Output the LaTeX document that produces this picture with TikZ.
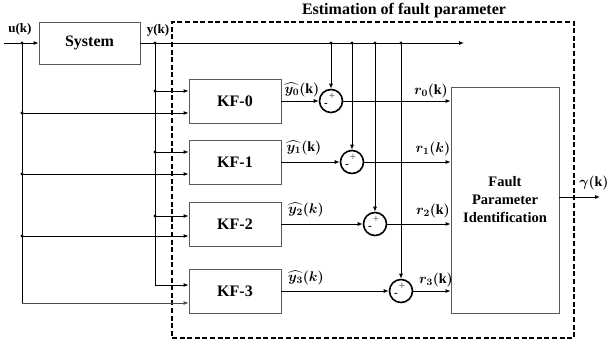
\RequirePackage{fix-cm}
\documentclass[tikz,border=0pt]{standalone}
\usepackage{fontspec}
\setmainfont{Liberation Serif}
\usepackage{amsmath,bm}
\usetikzlibrary{arrows.meta}
\begin{document}
\begin{tikzpicture}[x=1pt,y=-1pt,
  blk/.style={draw=black!65, line width=0.8pt, inner sep=0pt, font=\fontsize{16}{18}\selectfont\bfseries},
  ln/.style={line width=0.9pt},
  arr/.style={ln, -{Latex[length=5pt,width=4pt]}},
  jdot/.style={circle, fill, inner sep=0pt, minimum size=3.2pt},
  sumj/.style={circle, draw, line width=1.6pt, minimum size=23pt, inner sep=0pt},
  sgn/.style={inner sep=0pt, font=\fontsize{11}{11}\selectfont\bfseries},
  lbl/.style={inner sep=0pt, font=\fontsize{13}{14}\selectfont\bfseries},
  mlbl/.style={inner sep=0pt, font=\fontsize{14}{15}\selectfont},
  dashbox/.style={draw, line width=2.3pt, dash pattern=on 5pt off 2.6pt, inner sep=0pt}
]
\useasboundingbox (0,0) rectangle (608,342);

% frame and title
\node[dashbox, minimum width=402, minimum height=316] (frame) at (373,180) {};
\node[inner sep=0pt, font=\fontsize{16}{18}\selectfont\bfseries] (title) at (404,11) {Estimation of fault parameter};

% blocks
\node[blk, minimum width=101, minimum height=42] (sys) at (89.5,43) {System};
\node[blk, minimum width=92, minimum height=44] (kf0) at (235,101) {KF-0};
\node[blk, minimum width=92, minimum height=44] (kf1) at (235,162) {KF-1};
\node[blk, minimum width=92, minimum height=44] (kf2) at (235,224) {KF-2};
\node[blk, minimum width=92, minimum height=44] (kf3) at (235,291) {KF-3};
\node[blk, minimum width=108, minimum height=226, align=center, font=\fontsize{14.5}{18}\selectfont\bfseries] (fpi) at (505,200) {Fault\\Parameter\\Identification};

% summing junctions
\node[sumj] (s0) at (331,101) {};
\node[sumj] (s1) at (352,162) {};
\node[sumj] (s2) at (375,224) {};
\node[sumj] (s3) at (401,291) {};
\foreach \s in {s0,s1,s2,s3}{
  \node[sgn, text=black!55] (\s p) at ([shift={(1,-5)}]\s) {+};
  \node[sgn] (\s m) at ([shift={(-5,4)}]\s) {-};
}

% coordinates and junction dots
\coordinate (uin) at (4,43);
\node[jdot] (uj) at (22,43) {};
\node[jdot] (ud0) at (22,113) {};
\node[jdot] (ud1) at (22,174) {};
\node[jdot] (ud2) at (22,236) {};
\coordinate (ud3) at (22,303);
\node[jdot] (yj) at (155,43) {};
\node[jdot] (yd0) at (155,91) {};
\node[jdot] (yd1) at (155,152) {};
\node[jdot] (yd2) at (155,216) {};
\coordinate (yd3) at (155,285);
\node[jdot] (cd0) at (331,43) {};
\node[jdot] (cd1) at (352,43) {};
\node[jdot] (cd2) at (375,43) {};
\node[jdot] (cd3) at (401,43) {};
\coordinate (yend) at (464,43);
\coordinate (gend) at (600,197);

% input u
\draw[arr] (uin) -- (sys.west);
\draw[ln] (uj.center) -- (ud3);
\draw[arr] (ud0.center) -- (ud0 -| kf0.west);
\draw[arr] (ud1.center) -- (ud1 -| kf1.west);
\draw[arr] (ud2.center) -- (ud2 -| kf2.west);
\draw[arr, black!70] (ud3) -- (ud3 -| kf3.west);

% output y
\draw[arr] (sys.east) -- (yend);
\draw[ln] (yj.center) -- (yd3);
\draw[arr] (yd0.center) -- (yd0 -| kf0.west);
\draw[arr] (yd1.center) -- (yd1 -| kf1.west);
\draw[arr] (yd2.center) -- (yd2 -| kf2.west);
\draw[arr] (yd3) -- (yd3 -| kf3.west);

% to summing junctions
\draw[arr] (cd0.center) -- (s0.north);
\draw[arr] (cd1.center) -- (s1.north);
\draw[arr] (cd2.center) -- (s2.north);
\draw[arr] (cd3.center) -- (s3.north);
\draw[arr] (kf0.east) -- (s0.west);
\draw[arr] (kf1.east) -- (s1.west);
\draw[arr] (kf2.east) -- (s2.west);
\draw[arr] (kf3.east) -- (s3.west);

% residuals
\draw[arr] (s0.east) -- (s0 -| fpi.west);
\draw[arr] (s1.east) -- (s1 -| fpi.west);
\draw[arr] (s2.east) -- (s2 -| fpi.west);
\draw[arr] (s3.east) -- (s3 -| fpi.west);

% output gamma
\draw[arr] (fpi.east |- gend) -- (gend);

% labels
\node[lbl] (lu) at (20,29) {u(k)};
\node[lbl] (ly) at (158,30) {y(k)};
\node[mlbl] (lyh0) at (302,90) {$\bm{\widehat{y_0}(\mathrm{k})}$};
\node[mlbl] (lyh1) at (304,148) {$\bm{\widehat{y_1}(\mathrm{k})}$};
\node[mlbl] (lyh2) at (306,210) {$\bm{\widehat{y_2}(k)}$};
\node[mlbl] (lyh3) at (306,278) {$\bm{\widehat{y_3}(k)}$};
\node[mlbl] (lr0) at (431,91) {$\bm{r_0(\mathrm{k})}$};
\node[mlbl] (lr1) at (433,149) {$\bm{r_1(k)}$};
\node[mlbl] (lr2) at (433,211) {$\bm{r_2(\mathrm{k})}$};
\node[mlbl] (lr3) at (436,280) {$\bm{r_3(\mathrm{k})}$};
\node[mlbl] (lg) at (594,183) {$\bm{\gamma(\mathrm{k})}$};
\end{tikzpicture}
\end{document}
